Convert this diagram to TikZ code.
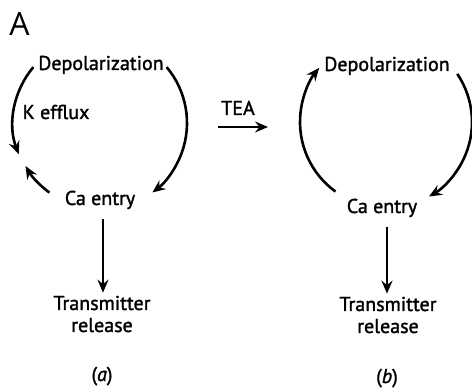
\documentclass[tikz,border=0pt]{standalone}
\usepackage{fontspec}
\setmainfont{PT Sans}
\newfontfamily\lblfont[FakeBold=1.5]{PT Sans}
\newfontfamily\panelfont{Open Sans}
\usetikzlibrary{arrows.meta}
\tikzstyle{lbl} = [inner sep=0pt, anchor=base, align=center,
    font=\lblfont\fontsize{20}{22}\selectfont]
\tikzstyle{cyc} = [line width=2.6pt,
    -{Stealth[length=13pt, width=11pt, inset=4.5pt]}]

\begin{document}
\begin{tikzpicture}[x=1pt, y=1pt]
    \useasboundingbox (0,0) rectangle (472,390);
    \node[inner sep=0pt, font=\panelfont\fontsize{32}{36}\selectfont] (panel) at (19.5,366) {A};

    % (a): normal cycle
    \coordinate (ring1) at (100,267);
    \node[lbl] (depol1) at (101,320) {Depolarization};
    \node[lbl] (efflux1) at (56,271) {K efflux};
    \node[lbl] (caentry1) at (100,185) {Ca entry};
    \node[lbl] (release1) at (102,58) {Transmitter\\release};
    \node[lbl] (tag1) at (102,9) {(\textit{a})};
    \draw[cyc] ([shift={(40:87pt)}]ring1) arc[start angle=40, end angle=-53, radius=87pt];
    \draw[cyc] ([shift={(140:87pt)}]ring1) arc[start angle=140, end angle=201, radius=87pt];
    \draw[cyc] ([shift={(234:86pt)}]ring1) arc[start angle=234, end angle=210, radius=86pt];
    \draw[cyc] (caentry1.south) ++(3,-10) coordinate (down1) -- ([xshift=1pt, yshift=3pt]release1.north);

    % TEA
    \node[lbl] (tea) at (238,275) {TEA};
    \coordinate (teaL) at (218,263);
    \coordinate (teaR) at (268,263);
    \draw[cyc] (teaL) -- (teaR);

    % (b): with TEA
    \coordinate (ring2) at (386,268);
    \node[lbl] (depol2) at (387,319) {Depolarization};
    \node[lbl] (caentry2) at (382,177) {Ca entry};
    \node[lbl] (release2) at (388,57) {Transmitter\\release};
    \node[lbl] (tag2) at (387,7) {(\textit{b})};
    \draw[cyc] ([shift={(234:86pt)}]ring2) arc[start angle=234, end angle=141, radius=86pt];
    \draw[cyc] ([shift={(34:86pt)}]ring2) arc[start angle=34, end angle=-60, radius=86pt];
    \draw[cyc] (caentry2.south) ++(5,-10) coordinate (down2) -- ([xshift=-1pt, yshift=3pt]release2.north);
\end{tikzpicture}
\end{document}
